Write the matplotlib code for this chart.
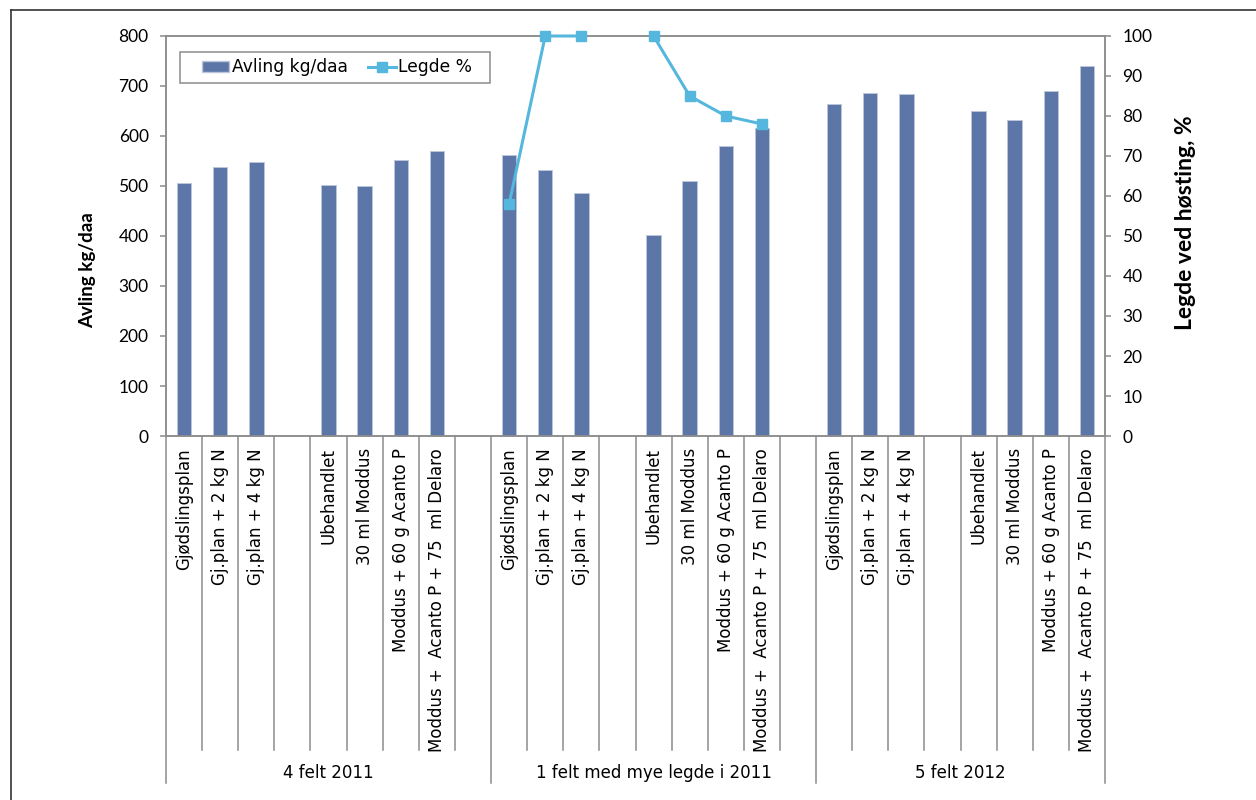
import numpy as np
import matplotlib
matplotlib.use("Agg")
import matplotlib.pyplot as plt
from matplotlib.patches import Patch, Rectangle
from matplotlib.lines import Line2D
import matplotlib.transforms as mtransforms

# ---------------- data ----------------
groups = ["4 felt 2011", "1 felt med mye legde i 2011", "5 felt 2012"]
treat_full = ["Gjødslingsplan", "Gj.plan + 2 kg N", "Gj.plan + 4 kg N", "",
              "Ubehandlet", "30 ml Moddus", "Moddus + 60 g Acanto P",
              "Moddus +  Acanto P + 75  ml Delaro", ""]
treat_last = treat_full[:8]
group_treatments = [treat_full, treat_full, treat_last]

avling_g1 = [506, 539, 549, None, 502, 500, 552, 571, None]
avling_g2 = [563, 533, 486, None, 402, 510, 581, 617, None]
avling_g3 = [664, 686, 685, None, 650, 633, 690, 740]

legde_g1 = [None] * 9
legde_g2 = [58, 100, 100, None, 100, 85, 80, 78, None]
legde_g3 = [None] * 8

# ---------------- build slots ----------------
labels = []
avling = []
legde = []
group_bounds = [0]
for tr, av, lg in zip(group_treatments, [avling_g1, avling_g2, avling_g3],
                      [legde_g1, legde_g2, legde_g3]):
    labels += tr
    avling += [np.nan if v is None else v for v in av]
    legde += [np.nan if v is None else v for v in lg]
    group_bounds.append(len(labels))
n = len(labels)
x = np.arange(n)
avling = np.array(avling, dtype=float)
legde = np.array(legde, dtype=float)

bar_color = "#5B76A7"
line_color = "#55B7DD"
spine_color = "#8C8C8C"

fig = plt.figure(figsize=(12.56, 8), dpi=100)
W, H = 1256, 800
ax = fig.add_axes([166 / W, 1 - 436 / H, (1105 - 166) / W, 400 / H])
ax2 = ax.twinx()

ax.bar(x, avling, width=0.4, color=bar_color, edgecolor="#BCC6DB", linewidth=0.7, zorder=2)
ax2.plot(x, legde, color=line_color, lw=2.2, marker="s", markersize=7.5,
         markeredgecolor=line_color, clip_on=False, zorder=3)

ax.set_xlim(-0.5, n - 0.5)
ax.set_ylim(0, 800)
ax.set_yticks(np.arange(0, 801, 100))
ax2.set_ylim(0, 100)
ax2.set_yticks(np.arange(0, 101, 10))
ax.set_xticks([])

for a in (ax, ax2):
    for s in a.spines.values():
        s.set_color(spine_color)
        s.set_linewidth(1.1)
ax.tick_params(axis="y", direction="out", length=4.5, width=1.1, color=spine_color,
               pad=8, labelsize=12.5)
ax2.tick_params(axis="y", direction="out", length=4.5, width=1.1, color=spine_color,
                pad=8, labelsize=12.5)
for lab in ax.get_yticklabels() + ax2.get_yticklabels():
    lab.set_fontfamily("Lato")

ax.set_ylabel("Avling kg/daa", fontfamily="Lato", fontweight="bold", fontsize=13.5)
ax.yaxis.set_label_coords(-0.0745, 0.415)
ax2.set_ylabel("Legde ved høsting, %", fontfamily="Lato", fontweight="bold", fontsize=16.5)
ax2.yaxis.set_label_coords(1.0746, 0.534)

# category axis: lines and labels
trans = mtransforms.blended_transform_factory(ax.transData, ax.transAxes)
for k in range(n + 1):
    xb = k - 0.5
    y_end = -0.8675 if k in group_bounds else -0.785
    ax.add_line(Line2D([xb, xb], [0, y_end], transform=trans, color=spine_color,
                       lw=1.1, clip_on=False))
for i, lab in enumerate(labels):
    if lab:
        ax.text(i, -0.03, lab, transform=trans, rotation=90, ha="center", va="top",
                fontsize=12, fontfamily="DejaVu Sans")
for g, name in enumerate(groups):
    xc = (group_bounds[g] + group_bounds[g + 1]) / 2 - 0.5
    ax.text(xc, -0.8425, name, transform=trans, ha="center", va="center",
            fontsize=12, fontfamily="DejaVu Sans")

# legend
handles = [Patch(facecolor=bar_color, edgecolor="#BCC6DB"),
           Line2D([], [], color=line_color, lw=2.2, marker="s", markersize=7.5)]
leg = fig.legend(handles, ["Avling kg/daa", "Legde %"], loc="center",
                 bbox_to_anchor=(337 / W, 1 - 67.5 / H), ncol=2, frameon=False,
                 handlelength=1.6, handleheight=0.6, handletextpad=0.15,
                 columnspacing=1.2, borderpad=0.3,
                 prop={"family": "DejaVu Sans", "size": 12.3})
fig.add_artist(Rectangle((180 / W, 1 - 83 / H), 310 / W, 31 / H,
                         transform=fig.transFigure, fill=False,
                         edgecolor=spine_color, lw=1.1))

# outer chart border (left and top visible)
fig.add_artist(Line2D([10.5 / W, 10.5 / W], [0, 1 - 10 / H], transform=fig.transFigure,
                      color="#333333", lw=1.2))
fig.add_artist(Line2D([10.5 / W, 1], [1 - 10 / H, 1 - 10 / H], transform=fig.transFigure,
                      color="#333333", lw=1.2))

fig.savefig("out.png", dpi=100)
